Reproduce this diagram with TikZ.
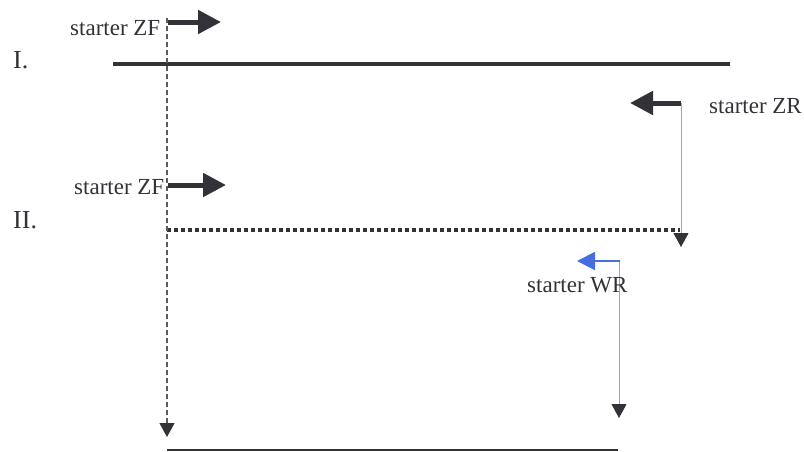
\documentclass[tikz,border=0pt]{standalone}
\usepackage{fontspec}
\setmainfont{Liberation Serif}
\usetikzlibrary{arrows.meta}

\definecolor{inkdark}{RGB}{50,50,56}
\definecolor{inkgray}{RGB}{165,165,168}
\definecolor{inkblue}{RGB}{70,110,225}

\begin{document}
\begin{tikzpicture}[x=1pt,y=1pt,yscale=-1,
  tag/.style={font=\fontsize{23}{27}\selectfont, inner sep=0, anchor=base west, text=inkdark},
  roman/.style={font=\fontsize{26}{30}\selectfont, inner sep=0, anchor=base west, text=inkdark},
  fat/.style={draw=inkdark, line width=5, -{Triangle[length=23pt,width=23pt,color=inkdark]}},
  drop/.style={draw=inkgray, line width=0.9, -{Triangle[length=14pt,width=15pt,color=inkdark]}}]
\useasboundingbox (0,0) rectangle (804,451);

% run labels
\node[roman] (runI) at (13,68) {I.};
\node[roman] (runII) at (13,228) {II.};

% end points
\coordinate (top) at (167,18);
\coordinate (bottom) at (167,437);
\coordinate (zfA) at (168,22);   \coordinate (zfAend) at (221,22);
\coordinate (zfB) at (168,185);  \coordinate (zfBend) at (226,185);
\coordinate (zr) at (681,103);   \coordinate (zrend) at (630,103);
\coordinate (zrdrop) at (681,247);
\coordinate (wr) at (620,261);   \coordinate (wrend) at (577,261);
\coordinate (wrdrop) at (619,418);
\coordinate (wrtop) at (619,261);
\coordinate (IL) at (113,64);    \coordinate (IR) at (730,64);
\coordinate (IIL) at (167,230);  \coordinate (IIR) at (680,230);
\coordinate (BL) at (167,450);   \coordinate (BR) at (618,450);

% strands
\draw [inkdark, line width=4] (IL) -- (IR);
\draw [inkdark, line width=4, dash pattern={on 4 off 3}] (IIL) -- (IIR);
\draw [inkdark, line width=2] (BL) -- (BR);

% vertical tracks
\draw [draw=inkdark!80, line width=1.2, dash pattern={on 5 off 3}, -{Triangle[length=14pt,width=15pt,color=inkdark]}] (top) -- (bottom);
\draw [drop] (zr) -- (zrdrop);
\draw [drop] (wrtop) -- (wrdrop);

% starters
\draw [fat] (zfA) -- (zfAend);
\draw [fat] (zfB) -- (zfBend);
\draw [fat] (zr) -- (zrend);
\draw [draw=inkblue, line width=2, -{Triangle[length=18pt,width=18pt,color=inkblue]}] (wr) -- (wrend);

\node[tag] (tzfA) at (70,35) {starter ZF};
\node[tag] (tzfB) at (74,194) {starter ZF};
\node[tag] (tzr) at (709,113) {starter ZR};
\node[tag] (twr) at (527,292) {starter WR};
\end{tikzpicture}
\end{document}
